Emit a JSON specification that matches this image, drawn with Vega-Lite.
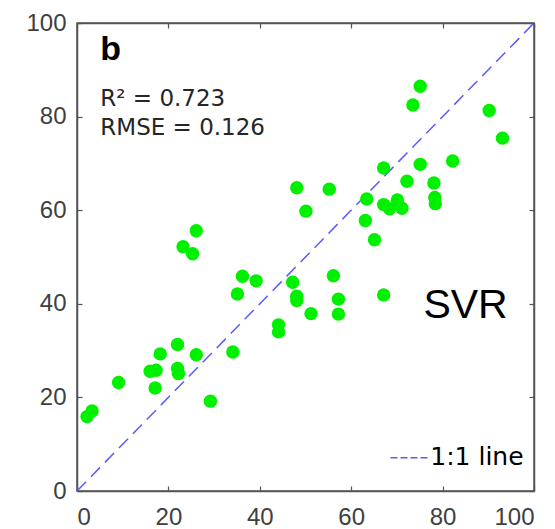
{
  "$schema": "https://vega.github.io/schema/vega-lite/v6.json",
  "width": 457,
  "height": 468,
  "autosize": {"type": "none"},
  "padding": {"left": 77, "top": 23, "right": 21, "bottom": 38},
  "config": {
    "view": {"stroke": "#555555", "strokeWidth": 1.5},
    "font": "Liberation Sans",
    "axis": {
      "grid": false,
      "domainColor": "#555555",
      "domainWidth": 1.5,
      "tickColor": "#555555",
      "tickSize": -5,
      "tickWidth": 1.2,
      "labelFont": "Liberation Sans",
      "labelFontSize": 24,
      "labelColor": "#404040",
      "title": null
    }
  },
  "layer": [
    {
      "data": {"values": [{"x": 0, "y": 0}, {"x": 100, "y": 100}]},
      "mark": {"type": "line", "color": "#5a5aff", "strokeWidth": 1.5, "strokeDash": [13, 7]},
      "encoding": {
        "x": {"field": "x", "type": "quantitative", "scale": {"domain": [0, 100], "nice": false}, "axis": {"orient": "top", "labels": false, "values": [0, 20, 40, 60, 80, 100]}},
        "y": {"field": "y", "type": "quantitative", "scale": {"domain": [0, 100], "nice": false}, "axis": {"orient": "right", "labels": false, "values": [0, 20, 40, 60, 80, 100]}}
      }
    },
    {
      "data": {"values": [
        {"x": 2.2, "y": 15.9}, {"x": 3.3, "y": 17.1}, {"x": 9.1, "y": 23.2}, {"x": 16.0, "y": 25.6},
        {"x": 17.3, "y": 25.8}, {"x": 17.1, "y": 22.0}, {"x": 18.2, "y": 29.3}, {"x": 22.0, "y": 31.3},
        {"x": 22.0, "y": 26.2}, {"x": 22.2, "y": 25.1}, {"x": 26.1, "y": 29.1}, {"x": 29.2, "y": 19.2},
        {"x": 34.1, "y": 29.7}, {"x": 23.2, "y": 52.2}, {"x": 25.3, "y": 50.7}, {"x": 26.1, "y": 55.6},
        {"x": 35.1, "y": 42.1}, {"x": 36.2, "y": 45.9}, {"x": 39.2, "y": 44.9}, {"x": 44.1, "y": 35.5},
        {"x": 44.1, "y": 34.0}, {"x": 47.2, "y": 44.6}, {"x": 48.1, "y": 41.6}, {"x": 48.1, "y": 40.7},
        {"x": 51.2, "y": 37.9}, {"x": 48.1, "y": 64.8}, {"x": 50.1, "y": 59.8}, {"x": 55.2, "y": 64.5},
        {"x": 56.1, "y": 46.0}, {"x": 57.2, "y": 41.0}, {"x": 57.2, "y": 37.8}, {"x": 67.1, "y": 41.9},
        {"x": 63.4, "y": 62.4}, {"x": 63.1, "y": 57.8}, {"x": 65.1, "y": 53.7}, {"x": 67.1, "y": 69.0},
        {"x": 67.1, "y": 61.2}, {"x": 68.4, "y": 60.3}, {"x": 70.1, "y": 62.2}, {"x": 71.1, "y": 60.4},
        {"x": 72.2, "y": 66.2}, {"x": 75.1, "y": 69.8}, {"x": 78.1, "y": 65.8}, {"x": 78.3, "y": 62.7},
        {"x": 78.4, "y": 61.4}, {"x": 82.2, "y": 70.5}, {"x": 73.5, "y": 82.5}, {"x": 75.1, "y": 86.5},
        {"x": 90.2, "y": 81.3}, {"x": 93.1, "y": 75.4}
      ]},
      "mark": {"type": "circle", "color": "#00f000", "opacity": 1, "size": 180},
      "encoding": {
        "x": {"field": "x", "type": "quantitative", "scale": {"domain": [0, 100], "nice": false}, "axis": {"orient": "bottom", "values": [0, 20, 40, 60, 80, 100], "labelPadding": 19}},
        "y": {"field": "y", "type": "quantitative", "scale": {"domain": [0, 100], "nice": false}, "axis": {"orient": "left", "values": [0, 20, 40, 60, 80, 100], "labelPadding": 16}}
      }
    },
    {
      "data": {"values": [{"x": 68.6, "y": 7.1}, {"x": 76.9, "y": 7.1}]},
      "mark": {"type": "line", "color": "#5a5aff", "strokeWidth": 1.5, "strokeDash": [7, 3]},
      "encoding": {
        "x": {"field": "x", "type": "quantitative", "axis": null},
        "y": {"field": "y", "type": "quantitative", "axis": null}
      }
    },
    {
      "data": {"values": [{"x": 5.1, "y": 92.1, "label": "b"}]},
      "mark": {"type": "text", "align": "left", "baseline": "alphabetic", "fontSize": 34, "fontWeight": "bold", "color": "#000000"},
      "encoding": {"x": {"field": "x", "type": "quantitative", "axis": null}, "y": {"field": "y", "type": "quantitative", "axis": null}, "text": {"field": "label"}}
    },
    {
      "data": {"values": [{"x": 5.1, "y": 82.2, "label": "R² = 0.723"}, {"x": 5.1, "y": 76.1, "label": "RMSE = 0.126"}]},
      "mark": {"type": "text", "align": "left", "baseline": "alphabetic", "font": "DejaVu Sans", "fontSize": 23, "color": "#262626"},
      "encoding": {"x": {"field": "x", "type": "quantitative", "axis": null}, "y": {"field": "y", "type": "quantitative", "axis": null}, "text": {"field": "label"}}
    },
    {
      "data": {"values": [{"x": 75.8, "y": 37.0, "label": "SVR"}]},
      "mark": {"type": "text", "align": "left", "baseline": "alphabetic", "fontSize": 41, "color": "#000000"},
      "encoding": {"x": {"field": "x", "type": "quantitative", "axis": null}, "y": {"field": "y", "type": "quantitative", "axis": null}, "text": {"field": "label"}}
    },
    {
      "data": {"values": [{"x": 77.3, "y": 5.5, "label": "1:1 line"}]},
      "mark": {"type": "text", "align": "left", "baseline": "alphabetic", "font": "DejaVu Sans", "fontSize": 25, "color": "#000000"},
      "encoding": {"x": {"field": "x", "type": "quantitative", "axis": null}, "y": {"field": "y", "type": "quantitative", "axis": null}, "text": {"field": "label"}}
    }
  ],
  "resolve": {"axis": {"x": "independent", "y": "independent"}}
}
